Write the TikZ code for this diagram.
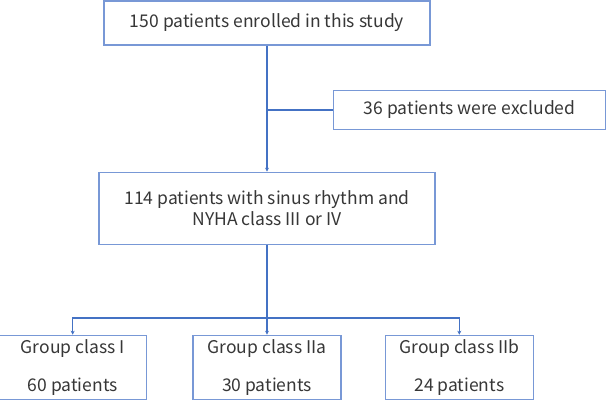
\documentclass[tikz,border=0pt]{standalone}
\usepackage{fontspec}
\setmainfont{Noto Sans CJK JP}
\usepackage{tikz}
\usetikzlibrary{arrows.meta,positioning}
\usepackage{xcolor}
\definecolor{linkblue}{RGB}{68,114,196}
\definecolor{boxblue}{RGB}{120,152,214}
\definecolor{txtgray}{RGB}{55,55,55}
\newcommand{\grouptext}[2]{\parbox[c][50pt][c]{140pt}{\centering #1\\[17pt]#2}}

\begin{document}
\begin{tikzpicture}[
    x=1pt, y=1pt,
    box/.style={rectangle, draw=boxblue, line width=1.3pt, fill=white, text=txtgray, text centered, font=\fontsize{17.5}{21}\selectfont, inner sep=0pt},
    topbox/.style={box, minimum width=326pt, minimum height=44pt},
    exclbox/.style={box, minimum width=272pt, minimum height=39pt},
    midbox/.style={box, minimum width=336pt, minimum height=72pt, align=center},
    groupbox/.style={box, minimum width=148pt, minimum height=64pt},
    link/.style={draw=linkblue, line width=1.4pt},
    arrow/.style={link, -{Stealth[length=4pt, width=4pt]}}
]
\useasboundingbox (0,0) rectangle (606,-402);

% enrolled
\node (enrol) [topbox] at (267,-23) {150 patients enrolled in this study};

% excluded
\node (excl) [exclbox, below right=44pt and 66pt of enrol.south, anchor=north west] {36 patients were excluded};

% sinus rhythm + NYHA
\node (sinus) [midbox, below=126pt of enrol] {114 patients with sinus rhythm and\\NYHA class III or IV};

% groups
\node (grpIIa) [groupbox, anchor=south] at (267,-400) {\grouptext{Group class IIa}{30 patients}};
\node (grpI) [groupbox, left=45pt of grpIIa] {\grouptext{Group class I}{60 patients}};
\node (grpIIb) [groupbox, right=43pt of grpIIa] {\grouptext{Group class IIb}{24 patients}};

\coordinate [below=73pt of sinus.south] (split);

% connectors
\draw [arrow] (enrol) -- (sinus);
\draw [link] (excl.west) -- (excl.west -| enrol.south);
\draw [arrow] (sinus) -- (grpIIa);
\draw [arrow] (split) -| (grpI);
\draw [arrow] (split) -| (grpIIb);

\end{tikzpicture}
\end{document}
